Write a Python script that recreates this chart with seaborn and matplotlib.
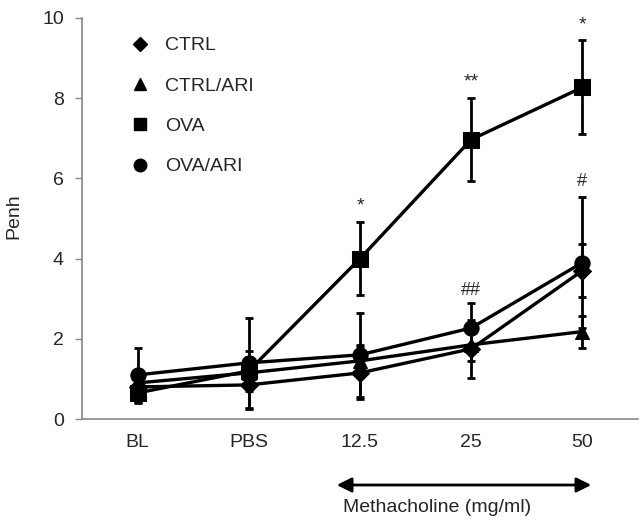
import matplotlib
matplotlib.use("Agg")
import matplotlib.pyplot as plt
import seaborn as sns
import pandas as pd
import numpy as np

categories = ["BL", "PBS", "12.5", "25", "50"]
groups = ["CTRL", "CTRL/ARI", "OVA", "OVA/ARI"]
ctrl = [0.80, 0.85, 1.15, 1.75, 3.70]
ctrl_err = [0.30, 0.60, 0.65, 0.72, 0.66]
ctrl_ari = [0.90, 1.15, 1.45, 1.85, 2.18]
ctrl_ari_err = [0.30, 0.40, 0.40, 0.40, 0.40]
ova = [0.65, 1.20, 4.00, 6.97, 8.27]
ova_err = [0.25, 0.50, 0.92, 1.03, 1.17]
ova_ari = [1.10, 1.40, 1.60, 2.27, 3.90]
ova_ari_err = [0.68, 1.12, 1.05, 0.63, 1.63]
annotations = [("*", 2, 5.1), ("**", 3, 8.2), ("*", 4, 9.62), ("##", 3, 3.0), ("#", 4, 5.7)]

values = {"CTRL": ctrl, "CTRL/ARI": ctrl_ari, "OVA": ova, "OVA/ARI": ova_ari}
errors = {"CTRL": ctrl_err, "CTRL/ARI": ctrl_ari_err, "OVA": ova_err, "OVA/ARI": ova_ari_err}
markers = {"CTRL": "D", "CTRL/ARI": "^", "OVA": "s", "OVA/ARI": "o"}
msizes = {"CTRL": 9, "CTRL/ARI": 10, "OVA": 11, "OVA/ARI": 11}

rows = []
for g in groups:
    for i, c in enumerate(categories):
        rows.append({"group": g, "pos": i, "value": values[g][i], "err": errors[g][i]})
df = pd.DataFrame(rows)

sns.set_style("white")
plt.rcParams["font.family"] = ["Liberation Sans", "DejaVu Sans"]
FS = 14

fig = plt.figure(figsize=(6.42, 5.23), dpi=100)
ax = fig.add_axes([82/642, 104/523, 556/642, 401/523])

for g in groups:
    sub = df[df.group == g]
    ax.errorbar(sub.pos, sub.value, yerr=sub.err, fmt="none", ecolor="black",
                elinewidth=2, capsize=3, capthick=2, zorder=2)
    sns.lineplot(data=sub, x="pos", y="value", ax=ax, color="black", linewidth=2.4,
                 marker=markers[g], markersize=msizes[g], markeredgecolor="black",
                 markerfacecolor="black", legend=False, zorder=3)

for txt, xi, yv in annotations:
    ax.text(xi, yv, txt, ha="center", va="bottom", fontsize=13 if "#" in txt else 14)

ax.set_xlim(-0.5, 4.5)
ax.set_ylim(0, 10)
ax.set_xticks(range(len(categories)))
ax.set_xticklabels(categories)
ax.set_yticks([0, 2, 4, 6, 8, 10])
ax.tick_params(axis="x", length=0, pad=11, labelsize=FS)
ax.tick_params(axis="y", length=5, width=1, color="#888888", left=True, labelsize=FS, pad=8)
for s in ["top", "right"]:
    ax.spines[s].set_visible(False)
for s in ["left", "bottom"]:
    ax.spines[s].set_color("#888888")
    ax.spines[s].set_linewidth(1.2)
ax.set_xlabel("")
ax.set_ylabel("Penh", fontsize=FS)
ax.yaxis.set_label_coords(-0.108, 0.505)

from matplotlib.lines import Line2D
handles = [Line2D([], [], linestyle="none", marker=markers[g], color="black",
                  markersize={"CTRL": 7, "CTRL/ARI": 8, "OVA": 8.5, "OVA/ARI": 9}[g]) for g in groups]
leg = ax.legend(handles, groups, loc="upper left", bbox_to_anchor=(0.055, 0.997),
                frameon=False, fontsize=FS, labelspacing=1.17, handletextpad=0.8,
                handlelength=1.0)

fig.patches.append(matplotlib.patches.FancyArrowPatch(
    (334/642, 1 - 485/523), (594/642, 1 - 485/523), transform=fig.transFigure,
    arrowstyle="<|-|>", mutation_scale=22, color="black", linewidth=2))
fig.text(437/642, 1 - 508/523, "Methacholine (mg/ml)", ha="center", va="center", fontsize=FS)

fig.savefig("out.png", dpi=100)
